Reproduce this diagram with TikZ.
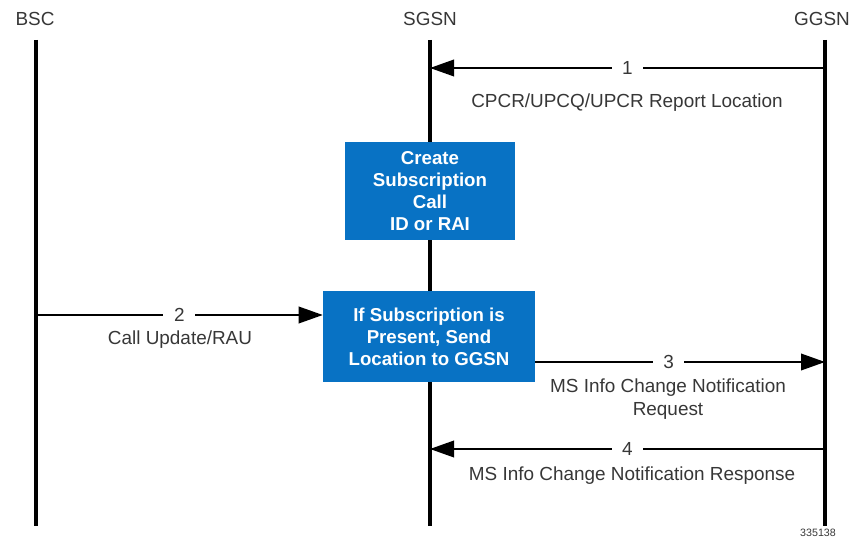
\documentclass[tikz,border=0pt]{standalone}
\usepackage{fontspec}
\setmainfont{Liberation Sans}
\usetikzlibrary{arrows.meta}
\definecolor{boxblue}{RGB}{8,114,196}
\definecolor{txtgray}{RGB}{55,55,55}
\begin{document}
\begin{tikzpicture}[x=0.75pt,y=-0.75pt,
  lbl/.style={text=txtgray,font=\fontsize{14.2}{17}\selectfont,inner sep=0pt},
  num/.style={text=txtgray,font=\fontsize{14.2}{17}\selectfont,fill=white,inner xsep=8pt,inner ysep=2pt},
  life/.style={line width=2.3pt,black},
  msg/.style={line width=1.1pt,black,-{Triangle[length=18pt,width=12.5pt]}},
  proc/.style={fill=boxblue,text=white,font=\bfseries\fontsize{14}{16.5}\selectfont,align=center,inner sep=0pt}]
\useasboundingbox (0,0) rectangle (859,548);
% headers
\node[lbl] (hbsc) at (35,19) {BSC};
\node[lbl] (hsgsn) at (430,19) {SGSN};
\node[lbl] (hggsn) at (822,19) {GGSN};
% lifeline ends
\coordinate (bT) at (36,40); \coordinate (bB) at (36,526);
\coordinate (sT) at (430,40); \coordinate (sB) at (430,526);
\coordinate (gT) at (825,40); \coordinate (gB) at (825,526);
\draw[life] (bT) -- (bB);
\draw[life] (sT) -- (sB);
\draw[life] (gT) -- (gB);
% boxes
\node[proc,minimum width=170*0.75pt,minimum height=98*0.75pt] (box1) at (430,191) {Create\\Subscription\\Call\\ID or RAI};
\node[proc,minimum width=212*0.75pt,minimum height=91*0.75pt] (box2) at (429,336.5) {If Subscription is\\Present, Send\\Location to GGSN};
% message 1
\coordinate (m1s) at (825,68); \coordinate (m1e) at (430,68);
\draw[msg] (m1s) -- node[num,pos=0.5] (n1) {1} (m1e);
\node[lbl] (l1) at (627,103) {CPCR/UPCQ/UPCR Report Location};
% message 2
\coordinate (m2s) at (36,315);
\draw[msg] (m2s) -- node[num,pos=0.5] (n2) {2} (m2s -| box2.west);
\node[lbl] (l2) at (180,340) {Call Update/RAU};
% message 3
\coordinate (m3e) at (825,362);
\draw[msg] (m3e -| box2.east) -- node[num,pos=0.46] (n3) {3} (m3e);
\node[lbl,align=center] (l3) at (668,399) {MS Info Change Notification\\Request};
% message 4
\coordinate (m4s) at (825,449); \coordinate (m4e) at (430,449);
\draw[msg] (m4s) -- node[num,pos=0.5] (n4) {4} (m4e);
\node[lbl] (l4) at (632,476) {MS Info Change Notification Response};
% figure id
\node[text=txtgray,font=\fontsize{8}{9}\selectfont,inner sep=0pt] (fid) at (818,533) {335138};
\end{tikzpicture}
\end{document}
